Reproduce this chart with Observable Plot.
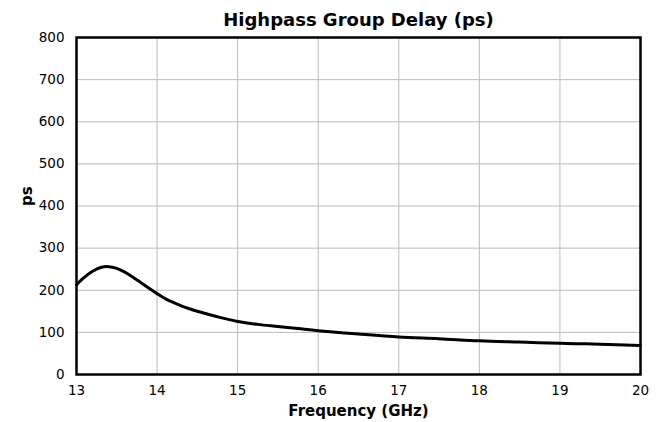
<!DOCTYPE html>
<html>
<head>
<meta charset="utf-8">
<script src="https://cdn.jsdelivr.net/npm/d3@7"></script>
<script src="https://cdn.jsdelivr.net/npm/@observablehq/plot@0.6"></script>
<style>
  body { margin: 0; background: #fff; }
  #chart svg { display: block; }
</style>
</head>
<body>
<div id="chart"></div>
<script>
const title = "Highpass Group Delay (ps)";
const xLabel = "Frequency (GHz)";
const yLabel = "ps";
const xTicks = [13, 14, 15, 16, 17, 18, 19, 20];
const yTicks = [0, 100, 200, 300, 400, 500, 600, 700, 800];

const freqGHz = [13.0, 13.1, 13.2, 13.3, 13.4, 13.5, 13.6, 13.7, 13.8, 13.9, 14.0, 14.1, 14.2, 14.3, 14.4, 14.5, 14.75, 15.0, 15.25, 15.5, 15.75, 16.0, 16.5, 17.0, 17.5, 18.0, 18.5, 19.0, 19.5, 20.0];
const delayPs = [213, 231, 245, 254, 256, 252, 243, 231, 218, 205, 192, 180, 171, 163, 156, 150, 137, 126, 119, 114, 109, 104, 96, 89, 85, 80, 77, 74, 72, 69];

const data = freqGHz.map((f, i) => ({f, d: delayPs[i]}));
const font = "DejaVu Sans, sans-serif";

const chart = Plot.plot({
  width: 665,
  height: 422,
  marginTop: 37,
  marginLeft: 76,
  marginRight: 25,
  marginBottom: 48,
  style: {fontFamily: font, fontSize: "13.5px", color: "black", background: "white"},
  x: {domain: [13, 20]},
  y: {domain: [0, 800]},
  marks: [
    Plot.gridX(xTicks, {stroke: "#bbb", strokeOpacity: 1, strokeWidth: 1}),
    Plot.gridY(yTicks, {stroke: "#bbb", strokeOpacity: 1, strokeWidth: 1}),
    Plot.axisX({ticks: xTicks, tickFormat: d3.format("d"), tickSize: 0, tickPadding: 11, label: null, fontSize: 13.5}),
    Plot.axisY({ticks: yTicks, tickFormat: d3.format("d"), tickSize: 0, tickPadding: 12, label: null, fontSize: 13.5}),
    Plot.line(data, {x: "f", y: "d", stroke: "black", strokeWidth: 3, curve: "catmull-rom"}),
    Plot.frame({stroke: "black", strokeWidth: 2.5}),
    Plot.text([title], {frameAnchor: "top", lineAnchor: "middle", dy: -17, fontWeight: "bold", fontSize: 18, text: d => d}),
    Plot.text([xLabel], {frameAnchor: "bottom", lineAnchor: "middle", dy: 37, fontWeight: "bold", fontSize: 15, text: d => d}),
    Plot.text([yLabel], {frameAnchor: "left", dx: -49, rotate: -90, fontWeight: "bold", fontSize: 15, text: d => d})
  ]
});
document.getElementById("chart").appendChild(chart);
</script>
</body>
</html>
